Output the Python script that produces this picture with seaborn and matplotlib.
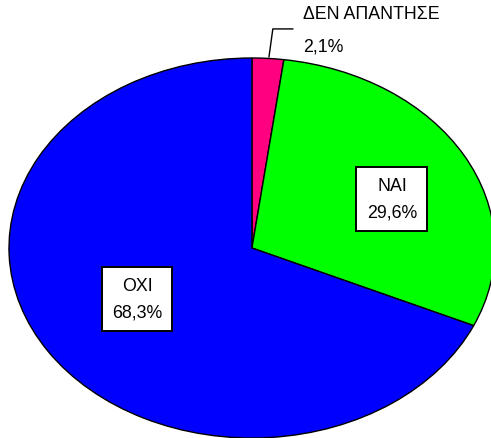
import matplotlib
matplotlib.use("Agg")
import matplotlib.pyplot as plt
import seaborn as sns

# Survey answers, clockwise from the top
categories = ["ΔΕΝ ΑΠΑΝΤΗΣΕ", "ΝΑΙ", "ΟΧΙ"]
shares = [2.1, 29.6, 68.3]
palette = ["#ff0080", "#00ff00", "#0000ff"]

sns.set_style("white")
plt.rcParams["font.family"] = ["Liberation Sans", "DejaVu Sans"]
plt.rcParams["text.color"] = "black"

fig = plt.figure(figsize=(4.91, 4.39), dpi=100)
ax = fig.add_axes([0, 0, 1, 1])

wedges, _ = ax.pie(
    shares,
    colors=palette,
    startangle=90,
    counterclock=False,
    wedgeprops=dict(edgecolor="black", linewidth=1.0),
)

# Stretch the pie into an ellipse
ax.set_aspect("auto")
ax.set_xlim(-1.037, 0.984)
ax.set_ylim(-1.0, 1.3105)
ax.axis("off")


def pct(v):
    return f"{v:.1f}".replace(".", ",") + "%"


box = dict(boxstyle="square,pad=0.58", fc="white", ec="black", lw=1.4)
fs = 12.8

# Boxed labels inside the two large slices
label_pos = {1: (0.576, 0.258), 2: (-0.473, -0.268)}
for i, (x, y) in label_pos.items():
    ax.text(x, y, f"{categories[i]}\n{pct(shares[i])}", ha="center", va="center",
            multialignment="center", fontsize=fs, linespacing=1.75, bbox=box)

# Small slice: label outside with a leader line
ax.plot([0.07, 0.086, 0.169], [1.005, 1.153, 1.153], color="black", lw=1.0,
        clip_on=False)
ax.text(0.21, 1.232, categories[0], ha="left", va="center", fontsize=fs)
ax.text(0.21, 1.063, pct(shares[0]), ha="left", va="center", fontsize=fs)

fig.savefig("out.png", dpi=100, facecolor="white")
